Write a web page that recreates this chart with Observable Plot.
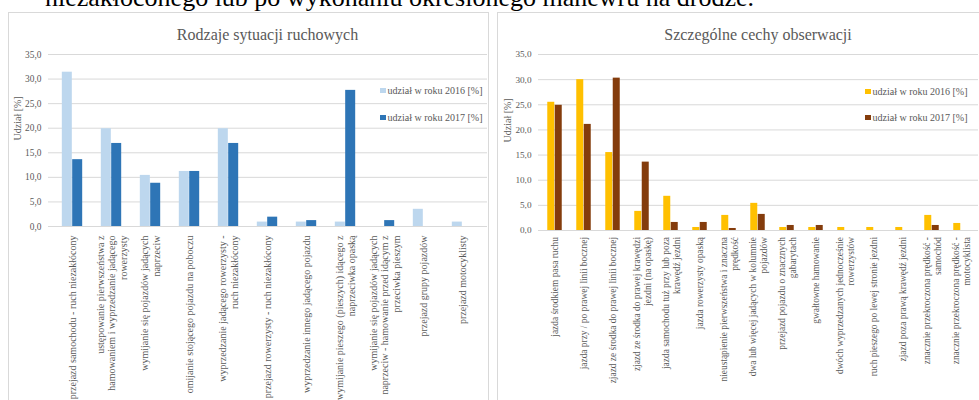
<!DOCTYPE html>
<html><head><meta charset="utf-8">
<script src="https://cdn.jsdelivr.net/npm/d3@7"></script>
<script src="https://cdn.jsdelivr.net/npm/@observablehq/plot@0.6"></script>
<style>
html,body{margin:0;padding:0;background:#fff;}
body{width:979px;height:400px;overflow:hidden;position:relative;font-family:"Liberation Serif",serif;}
#lead{position:absolute;left:45px;top:-15px;font-size:26px;line-height:1;color:#000;white-space:nowrap;}
.frame{position:absolute;border:1px solid #d9d9d9;box-sizing:border-box;background:#fff;}
.chart{position:absolute;}
.chart svg, .chart svg text{font-family:"Liberation Serif",serif !important;}
#c1 g[aria-label="xlabels"] text{letter-spacing:0.5px;}
#c2 g[aria-label="xlabels"] text{letter-spacing:0.55px;}
.title{position:absolute;font-size:16px;line-height:1;color:#595959;white-space:nowrap;transform:translateX(-50%);}
.leg{position:absolute;font-size:10px;line-height:12px;height:12px;color:#595959;white-space:nowrap;}
.sw{display:inline-block;width:5.5px;height:5.5px;margin-right:2px;vertical-align:1px;}
</style></head><body>
<div id="lead">niezakłóconego lub po wykonaniu określonego manewru na drodze.</div>
<div class="frame" style="left:8px;top:12px;width:481px;height:420px;"></div>
<div class="frame" style="left:497px;top:12px;width:500px;height:420px;"></div>
<div id="c1" class="chart" style="left:8px;top:12px;width:480px;height:388px;"></div>
<div id="c2" class="chart" style="left:497px;top:12px;width:482px;height:388px;"></div>
<script>
// ---- data ----
const seriesNames = ["udział w roku 2016 [%]", "udział w roku 2017 [%]"];
const yTicks = [0, 5, 10, 15, 20, 25, 30, 35];

const titleLeft = "Rodzaje sytuacji ruchowych";
const categoriesLeft = [
  "przejazd samochodu - ruch niezakłócony",
  "ustępowanie pierwszeństwa z\nhamowaniem i wyprzedzanie jadącego\nrowerzysty",
  "wymijanie się pojazdów jadących\nnaprzeciw",
  "omijanie stojącego pojazdu na poboczu",
  "wyprzedzanie jadącego rowerzysty -\nruch niezakłócony",
  "przejazd rowerzysty - ruch niezakłócony",
  "wyprzedzanie innego jadącego pojazdu",
  "wymijanie pieszego (pieszych) idącego z\nnaprzeciwka opaską",
  "wymijanie się pojazdów jadących\nnaprzeciw - hamowanie przed idącym z\nprzeciwka pieszym",
  "przejazd grupy pojazdów",
  "przejazd motocyklisty"
];
const left2016 = [31.4, 19.9, 10.4, 11.2, 19.9, 0.9, 0.9, 0.9, 0.0, 3.5, 0.9];
const left2017 = [13.6, 16.9, 8.8, 11.2, 16.9, 1.9, 1.2, 27.7, 1.2, 0.0, 0.0];

const titleRight = "Szczególne cechy obserwacji";
const categoriesRight = [
  "jazda środkiem pasa ruchu",
  "jazda przy / po prawej linii bocznej",
  "zjazd ze środka do prawej linii bocznej",
  "zjazd ze środka do prawej krawędzi\njezdni (na opaskę)",
  "jazda samochodu tuż przy lub poza\nkrawędź jezdni",
  "jazda rowerzysty opaską",
  "nieustąpienie pierwszeństwa i znaczna\nprędkość",
  "dwa lub więcej jadących w kolumnie\npojazdów",
  "przejazd pojazdu o znacznych\ngabarytach",
  "gwałtowne hamowanie",
  "dwóch wyprzedzanych jednocześnie\nrowerzystów",
  "ruch pieszego po lewej stronie jezdni",
  "zjazd poza prawą krawędź jezdni",
  "znacznie przekroczona prędkość -\nsamochód",
  "znacznie przekroczona prędkość -\nmotocyklista"
];
const right2016 = [25.5, 30.0, 15.5, 3.8, 6.8, 0.6, 3.0, 5.4, 0.6, 0.6, 0.6, 0.6, 0.6, 3.0, 1.4];
const right2017 = [24.9, 21.1, 30.3, 13.6, 1.6, 1.6, 0.4, 3.2, 1.0, 1.0, 0.0, 0.0, 0.0, 1.0, 0.0];

const colorsLeft = ["#BDD7EE", "#2E75B6"];
const colorsRight = ["#FFC000", "#843C0C"];

const FONT = '"Liberation Serif", serif';
const fmt = d => d3.format(".1f")(d).replace(".", ",");

function makeChart(cfg) {
  const {el, pageLeft, width, height, marginLeft, marginRight, marginTop, marginBottom,
         cats, v16, v17, colors, padIn, labelSize, labelGap, lineHeight, tickSize, title, legendX, legendY} = cfg;
  const rows = cats.flatMap((c, i) => [
    {cat: c, series: seriesNames[0], value: v16[i]},
    {cat: c, series: seriesNames[1], value: v17[i]}
  ]);
  const step = (width - marginLeft - marginRight) / cats.length;
  const bw = step * (1 - padIn);
  const svg = Plot.plot({
    width, height, marginLeft, marginRight, marginTop, marginBottom,
    style: 'font-family: "Liberation Serif", serif; background: transparent; overflow: visible;',
    x: {domain: cats, type: "band", paddingInner: padIn, paddingOuter: padIn / 2, axis: null},
    y: {domain: [0, 35]},
    color: {domain: seriesNames, range: colors},
    marks: [
      Plot.ruleY(yTicks, {stroke: "#d9d9d9", strokeWidth: 1}),
      Plot.barY(rows.filter(d => d.series === seriesNames[0]), {x: "cat", y: "value", fill: "series", dx: -bw / 2}),
      Plot.barY(rows.filter(d => d.series === seriesNames[1]), {x: "cat", y: "value", fill: "series", dx: bw / 2}),
      Plot.axisY({ticks: yTicks, tickSize: 0, tickPadding: 7, tickFormat: fmt, fontSize: tickSize, fontFamily: FONT, fill: "#595959", label: null}),
      Plot.text(cats, {x: d => d, text: d => d, frameAnchor: "bottom", dy: labelGap, rotate: -90, fontFamily: FONT,
        textAnchor: "end", lineAnchor: "middle", fontSize: labelSize, lineHeight, fill: "#595959", ariaLabel: "xlabels"}),
      Plot.text(["Udział [%]"], {text: d => d, frameAnchor: "left", dx: -31, rotate: -90, fontSize: 10, fontFamily: FONT, fill: "#595959"})
    ]
  });
  const host = document.getElementById(el);
  host.appendChild(svg);
  // center the wrapped lines of each category label within its block
  svg.querySelectorAll('g[aria-label="xlabels"] text').forEach(t => {
    const spans = t.querySelectorAll("tspan");
    if (spans.length < 2) return;
    const m = Math.max(...Array.from(spans, s => s.getComputedTextLength()));
    t.setAttribute("text-anchor", "middle");
    spans.forEach(s => s.setAttribute("x", -m / 2));
  });
  // title
  const tt = document.createElement("div");
  tt.className = "title";
  tt.textContent = title;
  tt.style.left = (pageLeft + marginLeft + (width - marginLeft - marginRight) / 2) + "px";
  tt.style.top = "27px";
  document.body.appendChild(tt);
  // legend
  seriesNames.forEach((name, i) => {
    const d = document.createElement("div");
    d.className = "leg";
    d.style.left = legendX + "px";
    d.style.top = (legendY[i] - 6) + "px";
    const sw = document.createElement("span");
    sw.className = "sw";
    sw.style.background = colors[i];
    d.appendChild(sw);
    d.appendChild(document.createTextNode(name));
    document.body.appendChild(d);
  });
}

makeChart({el: "c1", pageLeft: 8, width: 480, height: 388, marginLeft: 40, marginRight: 1, marginTop: 42, marginBottom: 174,
  cats: categoriesLeft, v16: left2016, v17: left2017, colors: colorsLeft, padIn: 0.74,
  labelSize: 10, labelGap: 9, lineHeight: 1.17, tickSize: 9.4, title: titleLeft, legendX: 380, legendY: [91, 118]});

makeChart({el: "c2", pageLeft: 497, width: 482, height: 388, marginLeft: 41, marginRight: 1, marginTop: 42, marginBottom: 170,
  cats: categoriesRight, v16: right2016, v17: right2017, colors: colorsRight, padIn: 0.745,
  labelSize: 9.4, labelGap: 6.5, lineHeight: 1.15, tickSize: 9.2, title: titleRight, legendX: 865, legendY: [92, 118]});
</script>
</body></html>
